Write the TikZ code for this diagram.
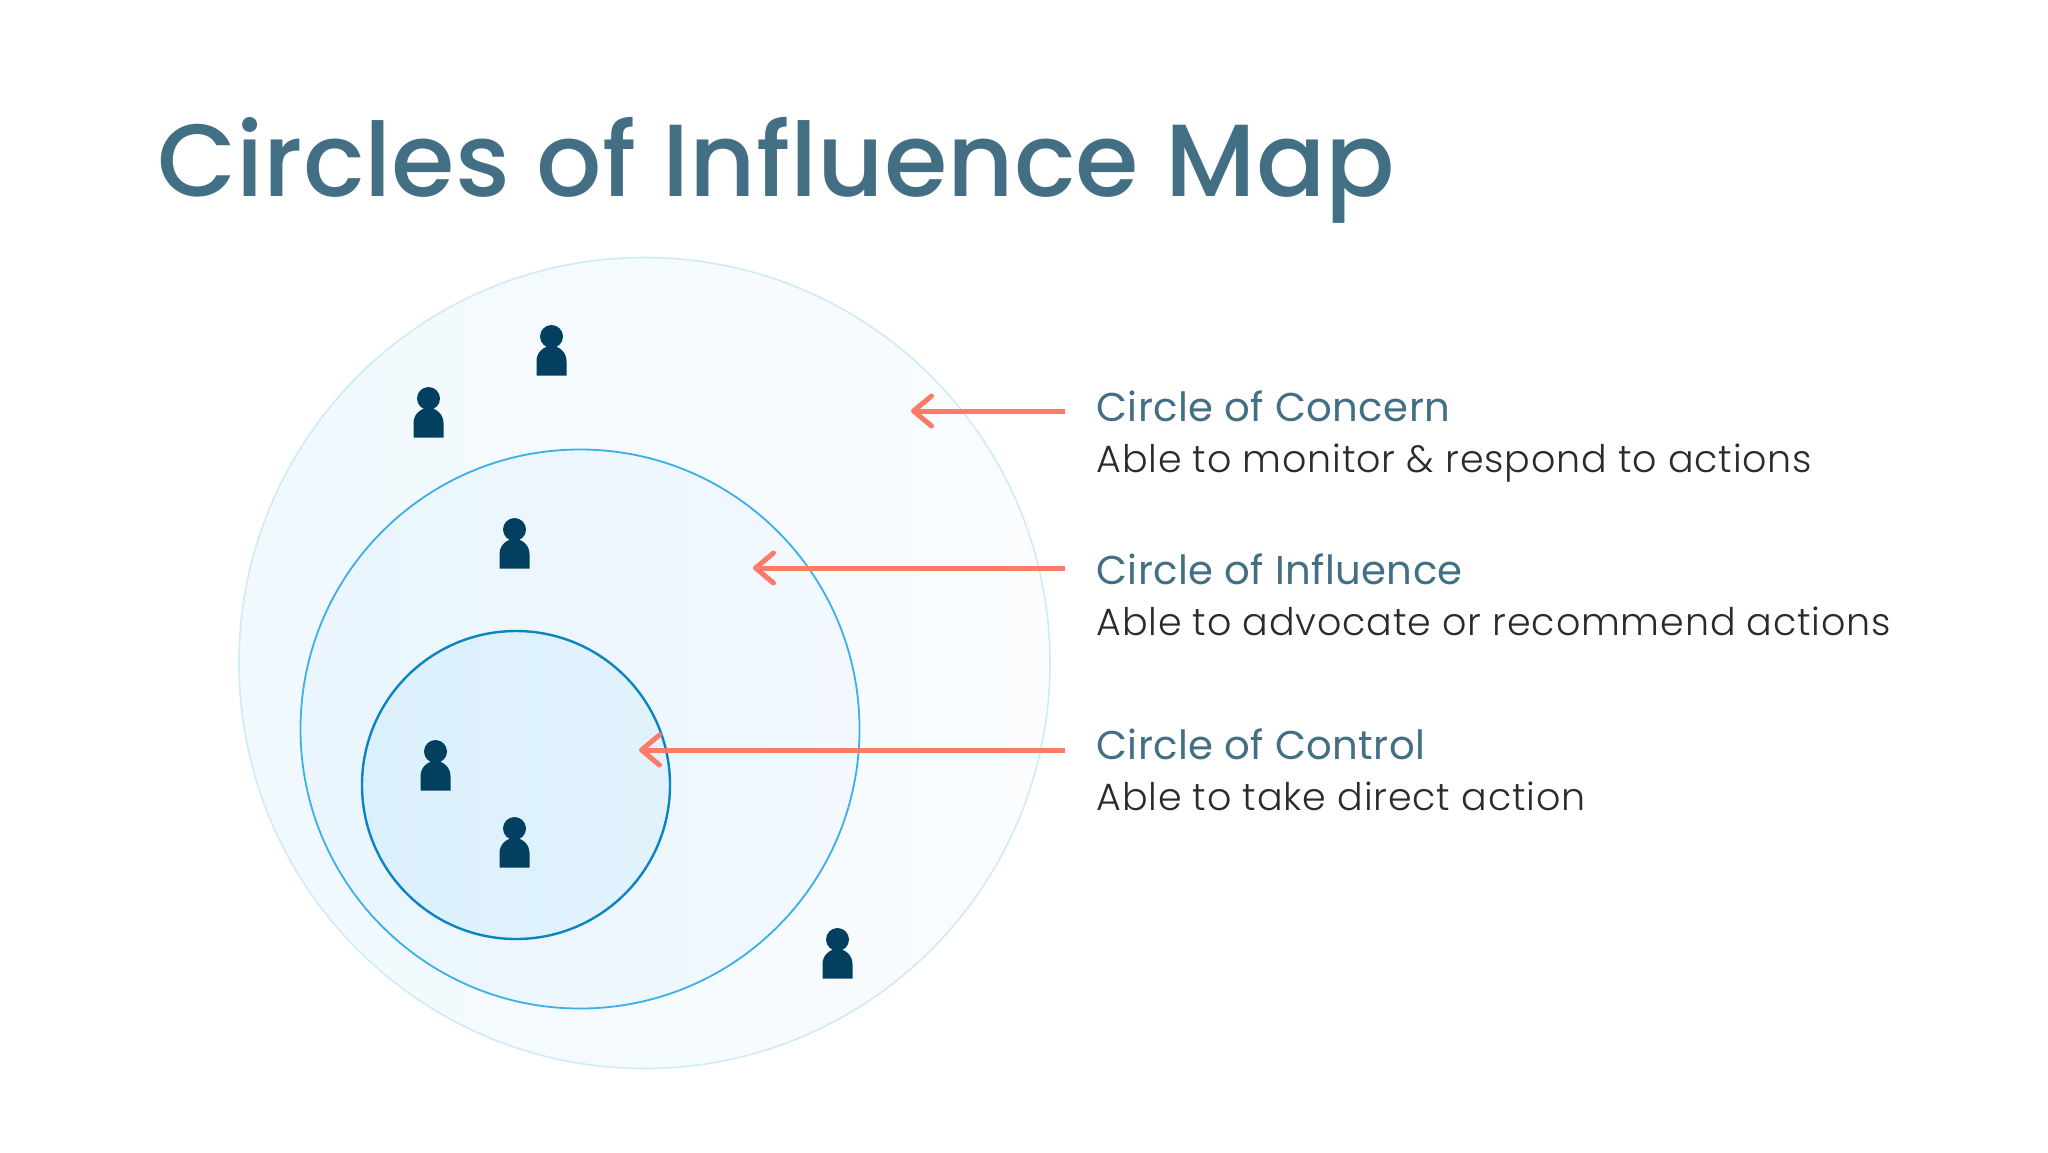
\documentclass[tikz,border=0pt]{standalone}
\usepackage{fontspec}
\setmainfont{Poppins}[UprightFont=* Light]
\newfontfamily\headfont{Poppins}[LetterSpace=1]
\newfontfamily\titlefont{Poppins}[UprightFont=* Medium]
\newfontfamily\bodyfont{Poppins}[UprightFont=* Light,LetterSpace=2.2]
\usetikzlibrary{arrows.meta}
\definecolor{titlec}{HTML}{436F85}
\definecolor{bodyc}{HTML}{2B2B2B}
\definecolor{arrowc}{HTML}{FB7B66}
\definecolor{persc}{HTML}{033F5F}
\definecolor{bigleft}{HTML}{F1F9FE}
\definecolor{bigright}{HTML}{FAFCFE}
\definecolor{bigline}{HTML}{CFEBF7}
\definecolor{midleft}{HTML}{EAF5FD}
\definecolor{midright}{HTML}{F2F8FE}
\definecolor{midline}{HTML}{3BB0E6}
\definecolor{smallleft}{HTML}{DCF0FC}
\definecolor{smallright}{HTML}{E0F3FD}
\definecolor{smallline}{HTML}{0A85C2}
\tikzset{
  x=0.5pt,y=-0.5pt,
  ring/.style={circle,inner sep=0pt,minimum size=#1*1pt},
  headtxt/.style={anchor=base west,inner sep=0pt,text=titlec,font=\headfont\fontsize{20.1}{24}\selectfont},
  bodytxt/.style={anchor=base west,inner sep=0pt,text=bodyc,font=\bodyfont\fontsize{19}{22}\selectfont},
  pointer/.style={draw=arrowc,line width=2.5pt,-{Straight Barb[length=9pt,width=15pt,line cap=round,round]}},
  person/.pic={
    \fill[persc] (0,11.5) circle[radius=11.5];
    \fill[persc] (-15,50.5) -- (-15,36) arc[start angle=180,end angle=360,radius=15] -- (15,50.5) -- cycle;
  }
}
\begin{document}
\begin{tikzpicture}
\useasboundingbox (0,0) rectangle (2048,1152);
\fill[white] (0,0) rectangle (2048,1152);
\node[ring=405.5,draw=bigline,left color=bigleft,right color=bigright,line width=0.8pt] (concern) at (644.5,663) {};
\node[ring=279.5,draw=midline,left color=midleft,right color=midright,line width=0.9pt] (influence) at (580,729) {};
\node[ring=154,draw=smallline,left color=smallleft,right color=smallright,line width=1.2pt] (control) at (516,785) {};
\pic at (551.5,325) {person};
\pic at (428.5,387) {person};
\pic at (514.5,518) {person};
\pic at (435.5,740) {person};
\pic at (514.5,817) {person};
\pic at (837.5,928) {person};
\node[anchor=base west,inner sep=0pt,text=titlec,font=\titlefont\fontsize{51.3}{60}\selectfont] (title) at (157,196) {Circles of Influence Map};
\node[headtxt] (h1) at (1096,421) {Circle of Concern};
\node[bodytxt] (b1) at (1096,472) {Able to monitor \& respond to actions};
\node[headtxt] (h2) at (1096,584) {Circle of Influence};
\node[bodytxt] (b2) at (1096,635) {Able to advocate or recommend actions};
\node[headtxt] (h3) at (1096,759) {Circle of Control};
\node[bodytxt] (b3) at (1096,810) {Able to take direct action};
\coordinate (t1) at (911,411);
\coordinate (t2) at (753,568);
\coordinate (t3) at (639,750);
\coordinate (s1) at (1065,411);
\coordinate (s2) at (1065,568);
\coordinate (s3) at (1065,750);
\draw[pointer] (s1) -- (t1);
\draw[pointer] (s2) -- (t2);
\draw[pointer] (s3) -- (t3);
\end{tikzpicture}
\end{document}
